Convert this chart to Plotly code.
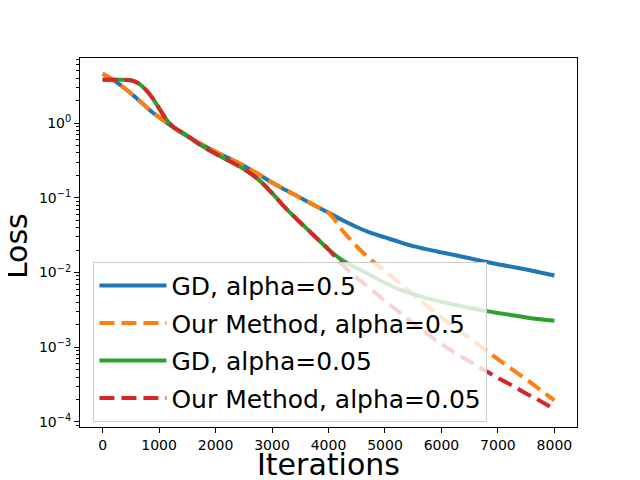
import plotly.graph_objects as go

# iterations (shared x for all four runs)
iters = [0, 250, 500, 625, 750, 875, 1000, 1125, 1250, 1500, 1750, 2000, 2250, 2500,
         2750, 3000, 3250, 3500, 3750, 4000, 4250, 4500, 4750, 5000, 5250, 5500,
         5750, 6000, 6250, 6500, 6750, 7000, 7250, 7500, 7750, 8000]

# loss values
gd_05 = [4.57, 3.51, 2.51, 2.07, 1.71, 1.41, 1.20, 1.02, 0.879, 0.668, 0.519, 0.412,
         0.335, 0.269, 0.209, 0.160, 0.126, 0.100, 0.0794, 0.0631, 0.0501, 0.0407,
         0.0339, 0.0295, 0.0257, 0.0226, 0.0204, 0.0186, 0.0170, 0.0155, 0.0141,
         0.0129, 0.0119, 0.0110, 0.0100, 0.00912]
ours_05 = [4.57, 3.51, 2.51, 2.07, 1.71, 1.41, 1.20, 1.02, 0.879, 0.668, 0.519, 0.412,
           0.335, 0.269, 0.209, 0.160, 0.126, 0.100, 0.0794, 0.0631, 0.0363, 0.0224,
           0.0148, 0.0105, 0.00724, 0.00513, 0.00355, 0.00251, 0.00182, 0.00132,
           0.000955, 0.000692, 0.000507, 0.000372, 0.000269, 0.000195]
gd_005 = [3.80, 3.80, 3.74, 3.44, 2.87, 2.21, 1.58, 1.13, 0.895, 0.676, 0.501, 0.389,
          0.309, 0.243, 0.178, 0.116, 0.0716, 0.0468, 0.0309, 0.0204, 0.0145, 0.0115,
          0.00912, 0.00724, 0.00596, 0.00513, 0.00452, 0.00407, 0.00367, 0.00335,
          0.00309, 0.00288, 0.00269, 0.00251, 0.00237, 0.00226]
ours_005 = [3.80, 3.80, 3.74, 3.44, 2.87, 2.21, 1.58, 1.13, 0.895, 0.676, 0.501, 0.389,
            0.309, 0.243, 0.178, 0.116, 0.0716, 0.0468, 0.0309, 0.0204, 0.0126, 0.00851,
            0.00603, 0.00417, 0.00295, 0.00209, 0.00151, 0.00110, 0.000832, 0.000646,
            0.000501, 0.000389, 0.000309, 0.000240, 0.000191, 0.000148]

names = ["GD, alpha=0.5", "Our Method, alpha=0.5", "GD, alpha=0.05", "Our Method, alpha=0.05"]
colors = ["#1f77b4", "#ff7f0e", "#2ca02c", "#d62728"]
dashes = ["solid", "15px,7px", "solid", "15px,7px"]

y_tickvals = [1e-4, 1e-3, 1e-2, 1e-1, 1]
y_ticktext = ["10<sup>−4</sup>", "10<sup>−3</sup>", "10<sup>−2</sup>", "10<sup>−1</sup>", "10<sup>0</sup>"]
x_tickvals = [0, 1000, 2000, 3000, 4000, 5000, 6000, 7000, 8000]

fig = go.Figure()
for i, (ys, name) in enumerate(zip([gd_05, ours_05, gd_005, ours_005], names)):
    fig.add_trace(go.Scatter(
        x=iters, y=ys, name=name, mode="lines",
        line=dict(color=colors[i], width=4, dash=dashes[i], shape="spline", smoothing=1.0),
        legendgroup=str(i),
    ))

axis_common = dict(
    showline=True, mirror=True, linecolor="black", linewidth=1,
    ticks="outside", ticklen=5, tickwidth=1, tickcolor="black",
    showgrid=False, zeroline=False, automargin=False,
    tickfont=dict(size=14, color="black"),
)

# axis titles as annotations so they sit where matplotlib put them
fig.add_annotation(text="Iterations", xref="paper", yref="paper", x=0.5, y=-0.102,
                   xanchor="center", yanchor="middle", showarrow=False, font=dict(size=30))
fig.add_annotation(text="Loss", xref="paper", yref="paper", x=-0.129, y=0.49,
                   xanchor="center", yanchor="middle", textangle=-90, showarrow=False,
                   font=dict(size=30))

# page body has an 8px margin, so the figure is 8px smaller and margins shifted
fig.update_layout(
    width=632, height=472,
    margin=dict(l=72, r=63, t=50, b=53),
    paper_bgcolor="white", plot_bgcolor="white",
    font=dict(family="DejaVu Sans", color="black"),
    xaxis=dict(range=[-400, 8400], tickvals=x_tickvals, **axis_common),
    yaxis=dict(type="log", range=[-4.067, 0.871], tickvals=y_tickvals, ticktext=y_ticktext,
               minor=dict(ticks="outside", ticklen=3, tickwidth=1, tickcolor="black", dtick="D1"),
               **axis_common),
    legend=dict(x=0.027, y=0.448, xanchor="left", yanchor="top",
                bgcolor="rgba(255,255,255,0.8)", bordercolor="#cccccc", borderwidth=1,
                font=dict(size=25), tracegroupgap=2, itemwidth=67),
    showlegend=True,
)

fig.write_html("out.html")
